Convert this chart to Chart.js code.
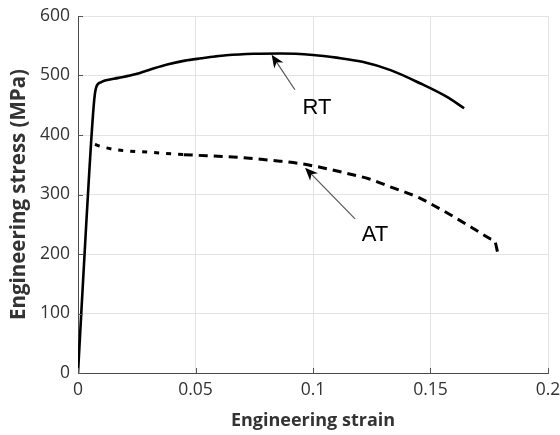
<!DOCTYPE html>
<html>
<head>
<meta charset="utf-8">
<script src="https://cdn.jsdelivr.net/npm/chart.js@4/dist/chart.umd.min.js"></script>
<style>
html,body{margin:0;padding:0;background:#fff;}
#wrap{width:560px;height:435px;position:relative;}
</style>
</head>
<body>
<div id="wrap"><canvas id="c" width="560" height="435"></canvas></div>
<script>
// ---- data ----
const rtStrain = [0, 0.0035, 0.0069, 0.0079, 0.0100, 0.0115, 0.0172, 0.0243, 0.0314, 0.0384, 0.0455, 0.0526, 0.0583, 0.063, 0.075, 0.086, 0.100, 0.110, 0.121, 0.133, 0.1455, 0.157, 0.1643];
const rtStress = [0, 250, 459, 482, 489, 491.5, 496, 502, 511, 519, 525, 529, 532, 534, 536.5, 537, 534.5, 530, 523, 509, 487, 464, 445];

const atStrain = [0.0072, 0.0105, 0.0165, 0.0306, 0.045, 0.066, 0.086, 0.0945, 0.104, 0.1143, 0.124, 0.1328, 0.1455, 0.1512, 0.1597, 0.1682, 0.1753, 0.1774, 0.1786];
const atStress = [384, 380, 375, 371, 367, 363, 356, 352, 345, 335.6, 326, 313, 294, 282, 263, 243, 226, 221, 202];

const xTicks = [0, 0.05, 0.1, 0.15, 0.2];
const xTickLabels = ['0', '0.05', '0.1', '0.15', '0.2'];
const yTicks = [0, 100, 200, 300, 400, 500, 600];

// annotation labels, arrow tips and tails (data units)
const labels = ['RT', 'AT'];
const labelAt = [[0.1017, 446], [0.1264, 232]];
const arrowTip = [[0.0824, 535], [0.0966, 345]];
const arrowTail = [[0.0923, 476], [0.1179, 259]];

const toPts = (xs, ys) => xs.map((x, i) => ({x: x, y: ys[i]}));

const FONT = "'Open Sans', 'Noto Sans', sans-serif";

const annotPlugin = {
  id: 'annot',
  afterDatasetsDraw(chart) {
    const ctx = chart.ctx;
    const xs = chart.scales.x, ys = chart.scales.y;
    const a = chart.chartArea;
    ctx.save();
    // inward ticks
    ctx.strokeStyle = '#555';
    ctx.lineWidth = 1;
    xTicks.forEach(t => {
      const px = Math.round(xs.getPixelForValue(t)) + 0.5;
      ctx.beginPath(); ctx.moveTo(px, a.bottom); ctx.lineTo(px, a.bottom - 5); ctx.stroke();
    });
    yTicks.forEach(t => {
      const py = Math.round(ys.getPixelForValue(t)) + 0.5;
      ctx.beginPath(); ctx.moveTo(a.left, py); ctx.lineTo(a.left + 5, py); ctx.stroke();
    });
    // arrows
    for (let i = 0; i < labels.length; i++) {
      const tx = xs.getPixelForValue(arrowTip[i][0]), ty = ys.getPixelForValue(arrowTip[i][1]);
      const sx = xs.getPixelForValue(arrowTail[i][0]), sy = ys.getPixelForValue(arrowTail[i][1]);
      const ang = Math.atan2(ty - sy, tx - sx);
      ctx.strokeStyle = '#555';
      ctx.lineWidth = 1.2;
      ctx.beginPath(); ctx.moveTo(sx, sy); ctx.lineTo(tx - 8 * Math.cos(ang), ty - 8 * Math.sin(ang)); ctx.stroke();
      // arrow head (dart)
      const L = 13, W = 5.5, back = 9;
      ctx.fillStyle = '#000';
      ctx.beginPath();
      ctx.moveTo(tx, ty);
      const bx = tx - L * Math.cos(ang), by = ty - L * Math.sin(ang);
      const nx = -Math.sin(ang), ny = Math.cos(ang);
      ctx.lineTo(bx + W * nx, by + W * ny);
      ctx.lineTo(tx - back * Math.cos(ang), ty - back * Math.sin(ang));
      ctx.lineTo(bx - W * nx, by - W * ny);
      ctx.closePath();
      ctx.fill();
      // label
      ctx.fillStyle = '#000';
      ctx.font = "22px 'Liberation Sans', Arial, sans-serif";
      ctx.textAlign = 'center';
      ctx.textBaseline = 'middle';
      ctx.fillText(labels[i], xs.getPixelForValue(labelAt[i][0]), ys.getPixelForValue(labelAt[i][1]));
    }
    ctx.restore();
  }
};

new Chart(document.getElementById('c'), {
  type: 'scatter',
  data: {
    datasets: [
      {
        label: 'AT',
        data: toPts(atStrain, atStress),
        showLine: true,
        borderColor: '#000',
        borderWidth: 3,
        borderDash: [9, 6],
        pointRadius: 0,
        cubicInterpolationMode: 'monotone',
        segment: {
          borderDash: c => (c.p0.parsed.x < 0.035 ? [5, 7] : [9, 6])
        }
      },
      {
        label: 'RT',
        data: toPts(rtStrain, rtStress),
        showLine: true,
        borderColor: '#000',
        borderWidth: 2.6,
        pointRadius: 0,
        cubicInterpolationMode: 'monotone'
      }
    ]
  },
  options: {
    responsive: false,
    animation: false,
    events: [],
    layout: {padding: {top: 16, right: 12, left: 0, bottom: 0}},
    plugins: {legend: {display: false}, tooltip: {enabled: false}},
    scales: {
      x: {
        type: 'linear',
        min: 0, max: 0.2,
        afterBuildTicks: s => { s.ticks = xTicks.map(v => ({value: v})); },
        afterFit: s => { s.height = 62; s.paddingLeft = 0; s.paddingRight = 0; },
        grid: {color: '#e3e3e3', lineWidth: 1, drawTicks: false},
        border: {display: true, color: '#4a4a4a', width: 1},
        ticks: {
          padding: 7,
          color: '#333',
          font: {family: FONT, size: 17.5},
          maxRotation: 0,
          autoSkip: false,
          callback: (v) => { const i = xTicks.indexOf(v); return i >= 0 ? xTickLabels[i] : ''; }
        },
        title: {
          display: true,
          text: 'Engineering strain',
          color: '#333',
          font: {family: FONT, size: 18, weight: 'bold'},
          padding: {top: 0, bottom: 3}
        }
      },
      y: {
        type: 'linear',
        min: 0, max: 600,
        afterBuildTicks: s => { s.ticks = yTicks.map(v => ({value: v})); },
        afterFit: s => { s.width = 78; s.paddingTop = 0; s.paddingBottom = 0; },
        grid: {color: '#e3e3e3', lineWidth: 1, drawTicks: false},
        border: {display: true, color: '#4a4a4a', width: 1},
        ticks: {
          padding: 8,
          color: '#333',
          font: {family: FONT, size: 17.5},
          autoSkip: false,
          callback: v => String(v)
        },
        title: {
          display: true,
          text: 'Engineering stress (MPa)',
          color: '#333',
          font: {family: FONT, size: 20.5, weight: 'bold'},
          padding: {top: 7, bottom: 0}
        }
      }
    }
  },
  plugins: [annotPlugin]
});
</script>
</body>
</html>
